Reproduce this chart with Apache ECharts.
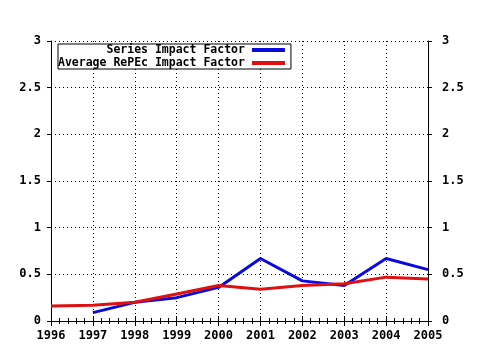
<!DOCTYPE html>
<html>
<head>
<meta charset="utf-8">
<script src="https://cdn.jsdelivr.net/npm/echarts@6/dist/echarts.min.js"></script>
<style>
  html, body { margin: 0; padding: 0; background: #fff; }
  #chart { width: 480px; height: 350px; }
</style>
</head>
<body>
<div id="chart"></div>
<script>
// data
var years = [ 1996, 1997, 1998, 1999, 2000, 2001, 2002, 2003, 2004, 2005 ];
var seriesIF = [ null, 0.09, 0.2, 0.25, 0.36, 0.67, 0.43, 0.38, 0.67, 0.55 ];
var averageIF = [ 0.16, 0.17, 0.2, 0.29, 0.38, 0.34, 0.38, 0.4, 0.47, 0.45 ];
var names = [ 'Series Impact Factor', 'Average RePEc Impact Factor' ];

function pairs( vals ) {
    return years.map( function( y, i ) { return [ y, vals[ i ] ]; } );
}

var font = 'DejaVu Sans Mono';
var chart = echarts.init( document.getElementById( 'chart' ) );

var splitStyle = { show: true, lineStyle: { color: '#000', type: [ 1, 3 ], width: 1 } };

var option = {
    animation: false,
    grid: { left: 51, right: 52, top: 41, bottom: 29 },
    legend: {
        left: 58,
        top: 44,
        orient: 'vertical',
        align: 'right',
        itemGap: 1,
        padding: [ 0, 6, 0, 0 ],
        backgroundColor: '#fff',
        borderColor: '#000',
        borderWidth: 1,
        itemWidth: 33,
        itemHeight: 4,
        icon: 'rect',
        data: names,
        formatter: function( n ) {
            var s = n;
            while ( s.length < 27 ) s = ' ' + s;
            return s;
        },
        textStyle: { fontFamily: font, fontWeight: 'bold', fontSize: 11.5, color: '#000', padding: [ 0, 2, 0, 0 ] }
    },
    xAxis: [ {
        type: 'value',
        min: 1996,
        max: 2005,
        interval: 1,
        axisLine: { lineStyle: { color: '#000' } },
        axisTick: { inside: true, length: 5, lineStyle: { color: '#000' } },
        minorTick: { show: true, splitNumber: 5, length: 3, lineStyle: { color: '#000' } },
        splitLine: splitStyle,
        axisLabel: {
            formatter: function( v ) { return String( v ); },
            fontFamily: font, fontWeight: 'bold', fontSize: 12, color: '#000', margin: 9
        }
    }, {
        type: 'value',
        position: 'top',
        min: 1996,
        max: 2005,
        interval: 1,
        axisLine: { lineStyle: { color: '#000' } },
        axisTick: { inside: true, length: 5, lineStyle: { color: '#000' } },
        minorTick: { show: true, splitNumber: 5, length: 3, lineStyle: { color: '#000' } },
        splitLine: { show: false },
        axisLabel: { show: false }
    } ],
    yAxis: [ {
        type: 'value',
        min: 0,
        max: 3,
        interval: 0.5,
        axisLine: { show: true, lineStyle: { color: '#000' } },
        axisTick: { show: true, length: 4, lineStyle: { color: '#000' } },
        splitLine: splitStyle,
        axisLabel: { fontFamily: font, fontWeight: 'bold', fontSize: 12, color: '#000', margin: 10 }
    }, {
        type: 'value',
        position: 'right',
        min: 0,
        max: 3,
        interval: 0.5,
        axisLine: { show: true, lineStyle: { color: '#000' } },
        axisTick: { show: true, length: 4, lineStyle: { color: '#000' } },
        splitLine: { show: false },
        axisLabel: { fontFamily: font, fontWeight: 'bold', fontSize: 12, color: '#000', margin: 14 }
    } ],
    series: [ {
        name: names[ 0 ],
        type: 'line',
        data: pairs( seriesIF ),
        color: '#0a0ae0',
        showSymbol: false,
        symbol: 'none',
        lineStyle: { width: 3 }
    }, {
        name: names[ 1 ],
        type: 'line',
        data: pairs( averageIF ),
        color: '#e01010',
        showSymbol: false,
        symbol: 'none',
        lineStyle: { width: 3 }
    } ]
};

chart.setOption( option );
</script>
</body>
</html>
